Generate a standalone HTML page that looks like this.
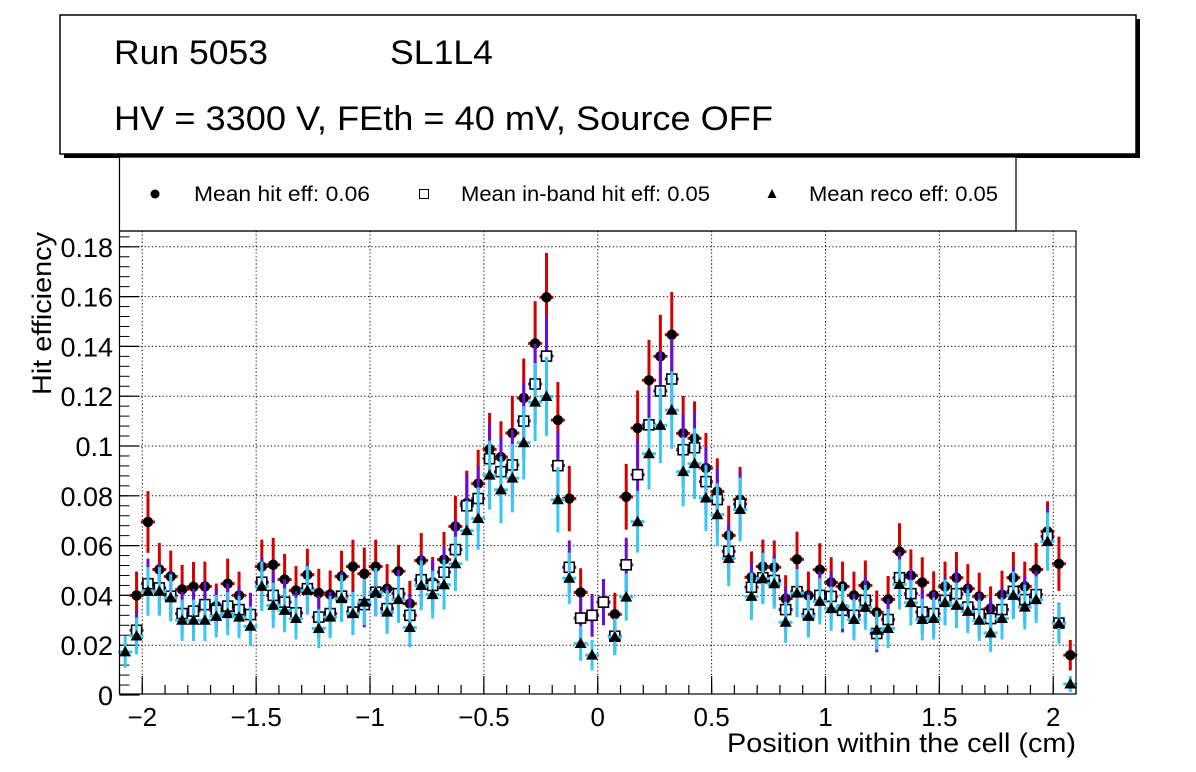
<!DOCTYPE html>
<html><head><meta charset="utf-8"><style>
html,body{margin:0;padding:0;background:#fff;}
svg{display:block;font-family:"Liberation Sans",Arial,sans-serif;}
</style></head><body>
<svg id="c" width="1196" height="772" viewBox="0 0 1196 772" xmlns="http://www.w3.org/2000/svg">
<rect x="64" y="19" width="1076" height="139" fill="#000"/>
<rect x="60" y="15" width="1076" height="139" fill="#fff" stroke="#000" stroke-width="1.5"/>
<text x="114" y="64" font-size="34" textLength="154" lengthAdjust="spacingAndGlyphs">Run 5053</text>
<text x="390" y="64" font-size="34" textLength="103" lengthAdjust="spacingAndGlyphs">SL1L4</text>
<text x="114" y="130" font-size="34" textLength="659" lengthAdjust="spacingAndGlyphs">HV = 3300 V, FEth = 40 mV, Source OFF</text>
<rect x="119.5" y="157" width="896.5" height="74" fill="#fff" stroke="#000" stroke-width="1.2"/>
<circle cx="155" cy="194" r="4.5" fill="#000"/>
<text x="194" y="201" font-size="21" textLength="176" lengthAdjust="spacingAndGlyphs">Mean hit  eff: 0.06</text>
<rect x="419.5" y="189.5" width="9" height="9" fill="#fff" stroke="#000" stroke-width="1"/>
<text x="461" y="201" font-size="21" textLength="249" lengthAdjust="spacingAndGlyphs">Mean in-band hit eff: 0.05</text>
<polygon points="772,189 767.5,198 776.5,198" fill="#000"/>
<text x="809" y="201" font-size="21" textLength="189" lengthAdjust="spacingAndGlyphs">Mean reco eff: 0.05</text>
<g id="grid"></g><g id="axes"></g><g id="marks"></g>
<rect x="119.5" y="231" width="956.5" height="463" fill="none" stroke="#000" stroke-width="1.2"/>
<text x="1076" y="752" font-size="27" text-anchor="end" textLength="349" lengthAdjust="spacingAndGlyphs">Position within the cell (cm)</text>
<text transform="translate(51,232) rotate(-90)" font-size="27" text-anchor="end" textLength="163" lengthAdjust="spacingAndGlyphs">Hit efficiency</text>
</svg>
<script>
const hitEff=[null,0.040,0.0695,0.0504,0.0476,0.0424,0.0435,0.0436,0.0357,0.0447,0.040,0.0324,0.0516,0.0523,0.0464,0.042,0.0483,0.041,0.0404,0.0476,0.0516,0.0487,0.0516,0.0427,0.0497,0.0367,0.054,0.0453,0.0544,0.0677,0.0771,0.0849,0.0987,0.0956,0.1052,0.1193,0.1412,0.1597,0.1104,0.0789,0.0412,0.032,0.0373,0.0324,0.0796,0.1072,0.1264,0.136,0.1447,0.1051,0.1031,0.0912,0.0817,0.0641,0.0785,0.0473,0.0516,0.0513,0.0387,0.0545,0.040,0.0503,0.0452,0.0436,0.040,0.044,0.0332,0.0384,0.0576,0.048,0.0452,0.0401,0.0436,0.0471,0.0427,0.0396,0.0347,0.0403,0.0471,0.0436,0.0504,0.0657,0.0527,0.016];
const inbandEff=[null,0.026,0.0447,0.043,0.0397,0.0327,0.0337,0.0363,0.034,0.0357,0.0343,0.0323,0.0453,0.040,0.0373,0.033,0.0427,0.0313,0.0327,0.0397,0.0333,0.0363,0.0413,0.0347,0.0407,0.032,0.0463,0.044,0.0493,0.0584,0.076,0.0789,0.0949,0.0897,0.0924,0.110,0.1249,0.1361,0.0921,0.0513,0.0309,0.032,0.0373,0.0236,0.0523,0.0885,0.1085,0.1221,0.1269,0.0985,0.0993,0.0857,0.0785,0.0577,0.0767,0.0433,0.0471,0.046,0.0343,0.0415,0.0324,0.040,0.0396,0.034,0.032,0.038,0.0247,0.0303,0.0471,0.0407,0.0333,0.0327,0.038,0.0407,0.0353,0.0324,0.0307,0.0343,0.0416,0.0383,0.0403,0.0636,0.0289,null];
const recoEff=[0.0173,0.0237,0.0416,0.0416,0.039,0.030,0.030,0.030,0.0316,0.0327,0.0313,0.0276,0.0436,0.036,0.034,0.0307,0.042,0.0267,0.0313,0.0387,0.0327,0.0373,0.0413,0.0333,0.0383,0.0271,0.044,0.0403,0.0443,0.0527,0.066,0.0709,0.0883,0.0824,0.0871,0.1013,0.1176,0.1199,0.0784,0.0469,0.0207,0.016,null,0.0233,0.0393,0.0696,0.0969,0.1083,0.1144,0.0897,0.0929,0.0791,0.0724,0.0548,0.0745,0.0396,0.0468,0.0447,0.0292,0.0409,0.0316,0.0376,0.0347,0.0356,0.0303,0.0352,0.026,0.0267,0.0444,0.0371,0.0303,0.0307,0.0371,0.036,0.0336,0.030,0.0249,0.0307,0.040,0.0353,0.0383,0.0616,0.0287,0.0044];
const binStart=-2.1, binWidth=0.05;
const xTickVals=[-2,-1.5,-1,-0.5,0,0.5,1,1.5,2];
const xTickLabels=["\u22122","\u22121.5","\u22121","\u22120.5","0","0.5","1","1.5","2"];
const yTickVals=[0,0.02,0.04,0.06,0.08,0.1,0.12,0.14,0.16,0.18];
const yTickLabels=["0","0.02","0.04","0.06","0.08","0.1","0.12","0.14","0.16","0.18"];

const NS="http://www.w3.org/2000/svg";
const X0=119.5,X1=1076,Y0=694,Y1=231,XMIN=-2.1,XMAX=2.1;
const sx=v=>X0+(v-XMIN)/(XMAX-XMIN)*(X1-X0);
const sy=v=>695-2490*v;
function mk(tag,at,parent){const e=document.createElementNS(NS,tag);for(const k in at)e.setAttribute(k,at[k]);parent.appendChild(e);return e;}
const grid=document.getElementById('grid'),axes=document.getElementById('axes'),marks=document.getElementById('marks');
xTickVals.forEach((v,i)=>{
  const g=mk('line',{x1:sx(v),x2:sx(v),y1:Y1,y2:Y0,stroke:'#000','stroke-width':1,'stroke-dasharray':'1.2,2.4'},grid);
  
  
  const t=mk('line',{x1:sx(v),x2:sx(v),y1:Y0,y2:Y0-18,stroke:'#000','stroke-width':1.2},axes);
  
  
  const l=mk('text',{x:sx(v),y:726,'font-size':26,'text-anchor':'middle'},axes);
  l.textContent=xTickLabels[i];
  
  
});
for(let v=-2.1;v<=2.101;v+=0.1){
  const m=mk('line',{x1:sx(v),x2:sx(v),y1:Y0,y2:Y0-9,stroke:'#000','stroke-width':1.2},axes);
  
  
}
yTickVals.forEach((v,i)=>{
  if(v>0){const g=mk('line',{x1:X0,x2:X1,y1:sy(v),y2:sy(v),stroke:'#000','stroke-width':1,'stroke-dasharray':'1.2,2.4'},grid);
  
  }
  const t=mk('line',{x1:X0,x2:X0+20,y1:sy(v),y2:sy(v),stroke:'#000','stroke-width':1.2},axes);
  
  
  const l=mk('text',{x:113,y:sy(v)+10,'font-size':27,'text-anchor':'end'},axes);
  l.textContent=yTickLabels[i];
  
  
});
for(let v=0.004;v<0.186;v+=0.004){
  const m=mk('line',{x1:X0,x2:X0+10,y1:sy(v),y2:sy(v),stroke:'#000','stroke-width':1},axes);
  
  
}
const errOf=v=>Math.sqrt(v*(1-v)/420);
function series(arr,color,shape,name){
  const g=mk('g',{},marks);
  
  
  arr.forEach((v,i)=>{
    if(v===null)return;
    const xc=sx(binStart+binWidth*(i+0.5)),yc=sy(v),e=errOf(v);
    const b=mk('line',{x1:xc,x2:xc,y1:Math.min(Y0,sy(Math.max(0,v-e))),y2:sy(v+e),stroke:color,'stroke-width':3},g);
    
    
    const h=mk('line',{x1:xc-7,x2:xc+7,y1:yc,y2:yc,stroke:color,'stroke-width':3},g);
    
    
    let m;
    if(shape==='c')m=mk('circle',{cx:xc,cy:yc,r:5.2,fill:'#000'},g);
    else if(shape==='s')m=mk('rect',{x:xc-5,y:yc-5,width:10,height:10,fill:'#fff',stroke:'#000','stroke-width':1.6},g);
    else m=mk('polygon',{points:`${xc},${yc-6} ${xc-6},${yc+4.5} ${xc+6},${yc+4.5}`,fill:'#000'},g);
    
    
  });
}
series(hitEff,'#d40000','c','hit-eff');
series(inbandEff,'#6a0dd6','s','inband-eff');
series(recoEff,'#33c8f5','t','reco-eff');
</script>
</body></html>
